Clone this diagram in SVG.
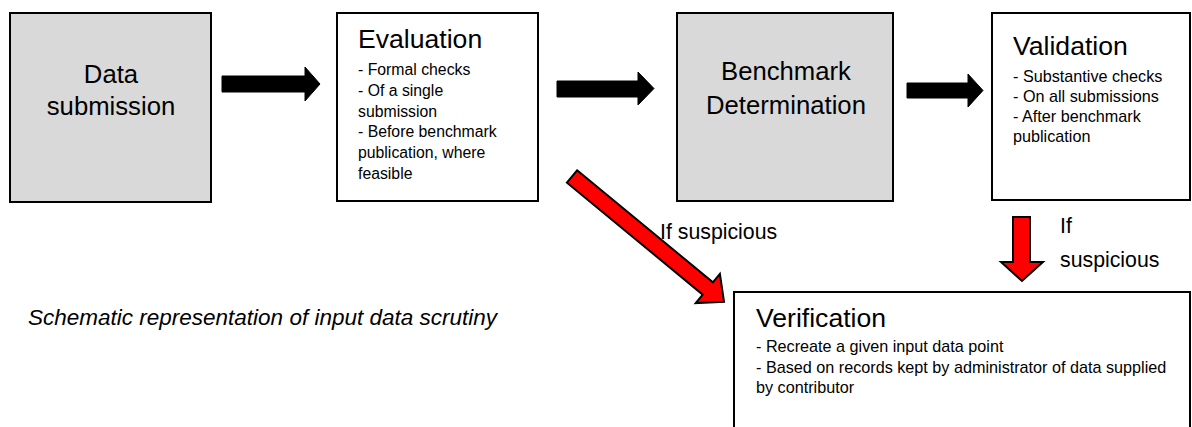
<svg xmlns="http://www.w3.org/2000/svg" width="1192" height="427" viewBox="0 0 1192 427">
<style>
.box{stroke:#000;stroke-width:2}
.gray{fill:#d9d9d9}
.white{fill:#fff}
text{font-family:"Liberation Sans",Arial,sans-serif;fill:#000}
.big{font-size:25.7px}
.title{font-size:26.6px}
.bul{font-size:15.8px}
.bul2{font-size:16.2px}
.lbl{font-size:21.3px}
.cap{font-size:22.5px;font-style:italic}
.blk{fill:#000;stroke:#000;stroke-width:1}
.red{fill:#ff0000;stroke:#000;stroke-width:2;stroke-linejoin:miter}
</style>
<rect width="1192" height="427" fill="#fff"/>
<g id="data-submission">
<rect class="box gray" x="10" y="13" width="201" height="189"/>
<text class="big" x="111" y="83" text-anchor="middle">Data</text>
<text class="big" x="111" y="115" text-anchor="middle">submission</text>
</g>
<g id="evaluation">
<rect class="box white" x="337" y="13" width="201" height="188"/>
<text class="title" x="358" y="48">Evaluation</text>
<text class="bul" x="358" y="75">- Formal checks</text>
<text class="bul" x="358" y="96">- Of a single</text>
<text class="bul" x="358" y="117">submission</text>
<text class="bul" x="358" y="137">- Before benchmark</text>
<text class="bul" x="358" y="158">publication, where</text>
<text class="bul" x="358" y="179">feasible</text>
</g>
<g id="benchmark-determination">
<rect class="box gray" x="677" y="13" width="216" height="188"/>
<text class="big" x="786" y="80" text-anchor="middle">Benchmark</text>
<text class="big" x="786" y="114" text-anchor="middle">Determination</text>
</g>
<g id="validation">
<rect class="box white" x="992" y="13" width="198" height="187"/>
<text class="title" x="1013" y="55">Validation</text>
<text class="bul2" x="1013" y="82">- Substantive checks</text>
<text class="bul2" x="1013" y="102">- On all submissions</text>
<text class="bul2" x="1013" y="122">- After benchmark</text>
<text class="bul2" x="1013" y="142">publication</text>
</g>
<g id="verification">
<rect class="box white" x="734" y="292" width="456" height="145"/>
<text class="title" x="756" y="327">Verification</text>
<text class="bul2" x="756" y="352">- Recreate a given input data point</text>
<text class="bul2" x="756" y="373">- Based on records kept by administrator of data supplied</text>
<text class="bul2" x="756" y="393">by contributor</text>
</g>
<g id="connectors">
<polygon class="blk" points="222,76 305,76 305,67 320,84 305,101 305,92 222,92"/>
<polygon class="blk" points="557,81 638,81 638,72 654,88.5 638,105 638,97 557,97"/>
<polygon class="blk" points="907,83 968,83 968,74 983,90.5 968,107 968,98 907,98"/>
<polygon class="red" transform="translate(572,176.5) rotate(39.5)" points="0,-8 176,-8 176,-19 197,0 176,19 176,8 0,8"/>
<polygon class="red" points="1013,217 1030,217 1030,262 1043,262 1022,281 1001,262 1013,262"/>
<text class="lbl" x="660" y="239">If suspicious</text>
<text class="lbl" x="1060" y="233">If</text>
<text class="lbl" x="1060" y="267">suspicious</text>
</g>
<text class="cap" x="28" y="325">Schematic representation of input data scrutiny</text>
</svg>
